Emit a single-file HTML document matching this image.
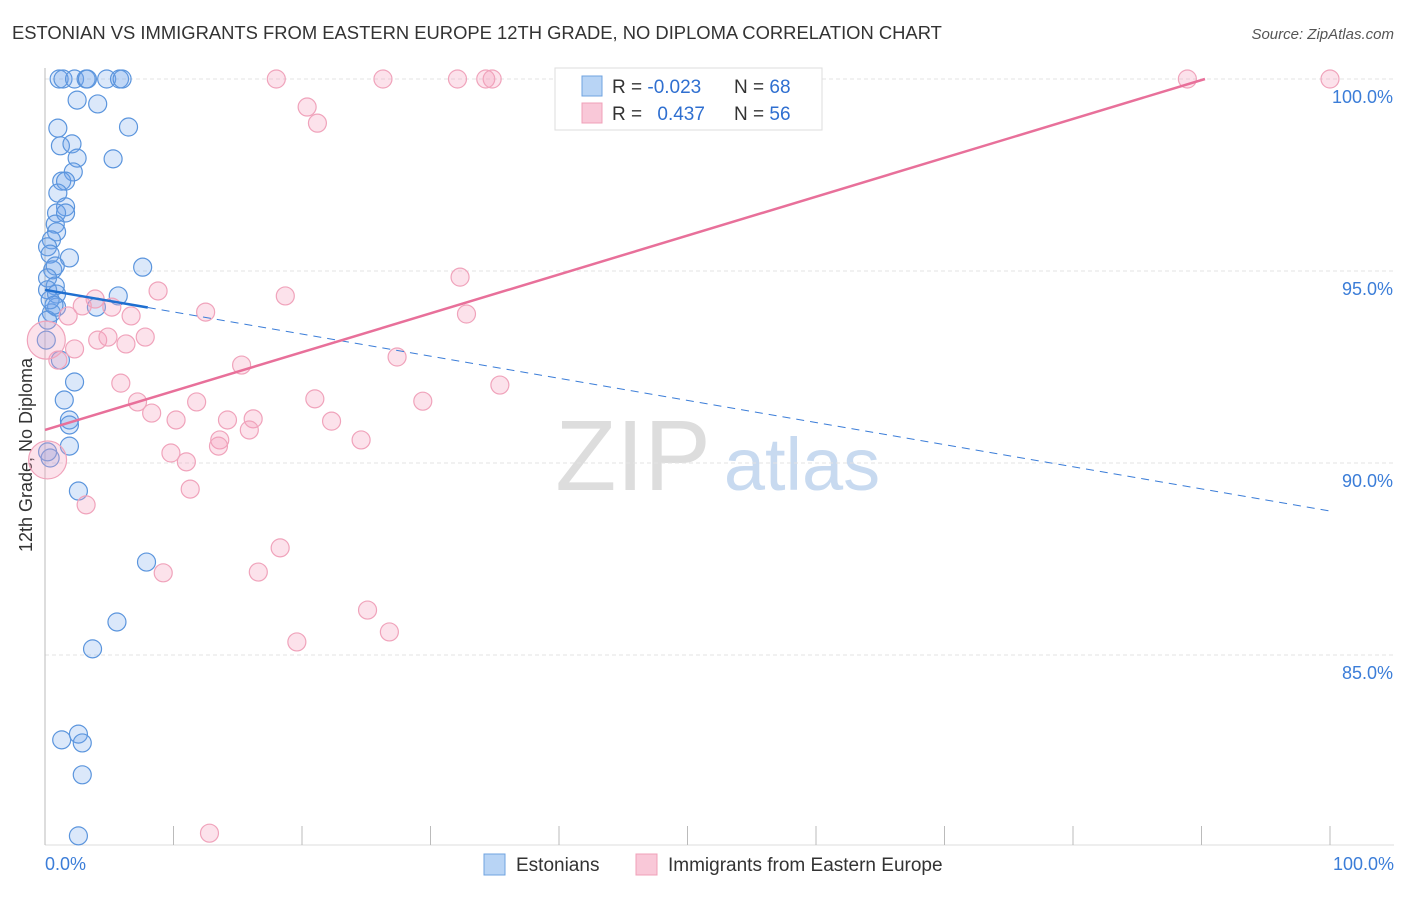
<!DOCTYPE html>
<html><head><meta charset="utf-8"><style>
body{margin:0;background:#fff;width:1406px;height:892px;overflow:hidden;font-family:"Liberation Sans",sans-serif}
svg text{font-family:"Liberation Sans",sans-serif}
</style></head><body>
<svg id="c" width="1406" height="892">
<text x="12" y="39" font-size="18.4" fill="#333">ESTONIAN VS IMMIGRANTS FROM EASTERN EUROPE 12TH GRADE, NO DIPLOMA CORRELATION CHART</text>
<text x="1394" y="39" font-size="15" fill="#555" font-style="italic" text-anchor="end">Source: ZipAtlas.com</text>
<text x="32" y="455" font-size="18" fill="#333" text-anchor="middle" transform="rotate(-90 32 455)">12th Grade, No Diploma</text>
<g><text x="633" y="490" font-size="100" fill="#ddd" font-family="Liberation Serif" text-anchor="middle">ZIP</text><text x="802" y="490" font-size="74" fill="#c8daf0" text-anchor="middle">atlas</text></g>
<g id="grid"></g><g id="pts"></g><g id="lines"></g>
<g>
<rect x="555" y="68" width="267" height="62" fill="#fff" stroke="#ddd"/>
<rect x="582" y="76" width="20" height="20" fill="#b8d4f5" stroke="#6fa3e0"/>
<rect x="582" y="103" width="20" height="20" fill="#f9c8d8" stroke="#f0a0b8"/>
<text x="612" y="93" font-size="19" fill="#333">R = <tspan fill="#2f6fd0">-0.023</tspan></text>
<text x="734" y="93" font-size="19" fill="#333">N = <tspan fill="#2f6fd0">68</tspan></text>
<text x="612" y="120" font-size="19" fill="#333">R = <tspan fill="#2f6fd0" dx="10">0.437</tspan></text>
<text x="734" y="120" font-size="19" fill="#333">N = <tspan fill="#2f6fd0">56</tspan></text>
</g>
<g>
<rect x="484" y="854" width="21" height="21" fill="#b8d4f5" stroke="#6fa3e0"/>
<text x="516" y="871" font-size="19" fill="#333">Estonians</text>
<rect x="636" y="854" width="21" height="21" fill="#f9c8d8" stroke="#f0a0b8"/>
<text x="668" y="871" font-size="19" fill="#333">Immigrants from Eastern Europe</text>
</g>
<text x="45" y="870" font-size="18" fill="#3b7dd8">0.0%</text>
<text x="1394" y="870" font-size="18" fill="#3b7dd8" text-anchor="end">100.0%</text>
</svg>
<script>
const yTicks=[100,95,90,85];
const yTickLabels=["100.0%","95.0%","90.0%","85.0%"];
const xTicks=[0,10,20,30,40,50,60,70,80,90,100];
const blueX=[1.1,1.4,2.3,3.2,3.3,4.8,5.8,6.0,2.5,4.1,1.0,6.5,1.2,2.1,2.5,5.3,2.2,1.3,1.6,1.0,1.6,0.9,1.6,0.8,0.9,0.5,0.2,0.4,1.9,0.6,7.6,0.8,0.2,0.8,0.2,0.9,5.7,4.0,0.9,0.5,0.2,1.2,2.3,1.5,1.9,1.9,1.9,0.4,2.6,7.9,5.6,3.7,2.6,1.3,2.9,2.9,2.6,0.4,0.7,0.1,0.2];
const blueY=[100,100,100,100,100,100,100,100,99.45,99.35,98.72,98.75,98.26,98.31,97.94,97.92,97.58,97.34,97.34,97.03,96.67,96.51,96.51,96.22,96.02,95.81,95.63,95.44,95.34,95.03,95.10,95.13,94.82,94.61,94.51,94.40,94.35,94.06,94.06,93.91,93.72,92.68,92.11,91.64,91.12,90.99,90.44,90.13,89.27,87.42,85.86,85.16,82.94,82.79,82.71,81.88,80.29,94.25,94.11,93.20,90.29];
const pinkX=[100,88.9,18.0,26.3,32.1,34.3,34.8,20.4,21.2,32.3,8.8,18.7,12.5,3.9,5.2,6.7,2.9,1.8,4.1,4.9,6.3,7.8,1.0,2.3,0.1,15.3,27.4,35.4,5.9,7.2,8.3,11.8,21.0,29.4,10.2,14.2,16.2,22.3,13.6,15.9,24.6,9.8,11.0,13.5,11.3,3.2,18.3,9.2,16.6,25.1,26.8,19.6,12.8,32.8,0.2];
const pinkY=[100,100,100,100,100,100,100,99.27,98.85,94.84,94.48,94.35,93.93,94.27,94.06,93.83,94.09,93.83,93.20,93.28,93.10,93.28,92.68,92.97,93.2,92.55,92.76,92.03,92.08,91.59,91.30,91.59,91.67,91.61,91.12,91.12,91.15,91.09,90.60,90.86,90.60,90.26,90.03,90.44,89.32,88.91,87.79,87.14,87.16,86.17,85.60,85.34,80.36,93.88,90.08];
const pinkLarge=[24,54];
const blueTrend=[94.51,88.75];
const blueSolidEnd=8;
const pinkTrend=[90.86,100];
const pinkTrendEnd=90.27;
const X=v=>45+v*12.85, Y=v=>79+(100-v)*38.4;
const NS="http://www.w3.org/2000/svg";
function mk(p,t,a){const e=document.createElementNS(NS,t);for(const k in a)e.setAttribute(k,a[k]);p.appendChild(e);return e;}
const g=document.getElementById('grid');
yTicks.forEach((v,i)=>{
 const l=mk(g,'line',{x1:45,x2:1394,y1:Y(v),y2:Y(v),stroke:'#e3e3e3','stroke-dasharray':'4,3'});
 
 
 const t=mk(g,'text',{x:1393,y:Y(v)+24,'font-size':18,fill:'#3b7dd8','text-anchor':'end'});t.textContent=yTickLabels[i];
 
 
});
const ax=mk(g,'line',{x1:45,x2:45,y1:68,y2:845,stroke:'#bbb'});


const bx=mk(g,'line',{x1:45,x2:1394,y1:845,y2:845,stroke:'#ddd'});


xTicks.forEach(v=>{const t=mk(g,'line',{x1:X(v),x2:X(v),y1:826,y2:845,stroke:'#bbb'});
 
 });
const P=document.getElementById('pts');
blueX.forEach((x,i)=>{const c=mk(P,'circle',{cx:X(x),cy:Y(blueY[i]),r:9,fill:'rgba(110,165,235,0.25)',stroke:'#5b95dd','stroke-width':1.2});
 
 });
pinkX.forEach((x,i)=>{const r=pinkLarge.includes(i)?19:9;const c=mk(P,'circle',{cx:X(x),cy:Y(pinkY[i]),r:r,fill:'rgba(245,160,190,0.3)',stroke:'#f0a3bb','stroke-width':1.2});
 
 });
const L=document.getElementById('lines');
const by=x=>blueTrend[0]+(blueTrend[1]-blueTrend[0])*x/100;
let l1=mk(L,'line',{x1:X(0),y1:Y(by(0)),x2:X(blueSolidEnd),y2:Y(by(blueSolidEnd)),stroke:'#1f6fd0','stroke-width':2.5});


let l2=mk(L,'line',{x1:X(blueSolidEnd),y1:Y(by(blueSolidEnd)),x2:X(100),y2:Y(by(100)),stroke:'#3b7dd8','stroke-width':1,'stroke-dasharray':'8,6'});


let l3=mk(L,'line',{x1:X(0),y1:Y(pinkTrend[0]),x2:X(pinkTrendEnd),y2:Y(pinkTrend[1]),stroke:'#e8709a','stroke-width':2.5});


</script>
</body></html>
